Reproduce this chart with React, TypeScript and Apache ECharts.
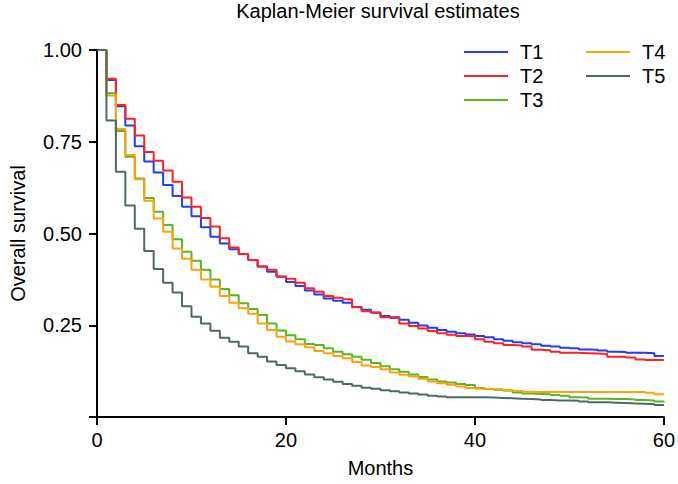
import React, { useEffect, useRef } from "react";
import * as echarts from "echarts";

const FONT = "'Liberation Sans', Arial, sans-serif";

const months = [
  0, 1, 2, 3, 4, 5, 6, 7, 8, 9, 10, 11, 12, 13, 14, 15, 16, 17, 18, 19, 20,
  21, 22, 23, 24, 25, 26, 27, 28, 29, 30, 31, 32, 33, 34, 35, 36, 37, 38, 39, 40,
  41, 42, 43, 44, 45, 46, 47, 48, 49, 50, 51, 52, 53, 54, 55, 56, 57, 58, 59, 60,
];

const seriesNames = ["T1", "T2", "T3", "T4", "T5"];
const seriesColors = ["#1f3cff", "#ff2020", "#5bb524", "#ffa20a", "#4f6868"];

const t1 = [
  1.0, 0.918, 0.847, 0.794, 0.738, 0.696, 0.666, 0.632, 0.602, 0.573, 0.547,
  0.517, 0.491, 0.473, 0.457, 0.444, 0.428, 0.41, 0.396, 0.382, 0.368,
  0.357, 0.345, 0.334, 0.323, 0.317, 0.311, 0.3, 0.292, 0.285, 0.275,
  0.272, 0.265, 0.257, 0.249, 0.243, 0.237, 0.232, 0.228, 0.225, 0.221,
  0.217, 0.212, 0.208, 0.204, 0.201, 0.198, 0.194, 0.192, 0.189, 0.187,
  0.184, 0.183, 0.181, 0.178, 0.177, 0.175, 0.175, 0.174, 0.166, 0.166,
];

const t2 = [
  1.0, 0.922, 0.85, 0.813, 0.767, 0.722, 0.698, 0.672, 0.641, 0.598, 0.573,
  0.542, 0.519, 0.487, 0.462, 0.444, 0.428, 0.41, 0.401, 0.383, 0.377,
  0.366, 0.351, 0.341, 0.33, 0.325, 0.321, 0.299, 0.288, 0.284, 0.272,
  0.27, 0.255, 0.248, 0.241, 0.234, 0.228, 0.224, 0.221, 0.22, 0.212,
  0.205, 0.201, 0.196, 0.195, 0.192, 0.183, 0.182, 0.178, 0.175, 0.175,
  0.174, 0.173, 0.172, 0.164, 0.164, 0.162, 0.157, 0.155, 0.155, 0.155,
];

const t3 = [
  1.0, 0.882, 0.779, 0.709, 0.65, 0.597, 0.559, 0.523, 0.484, 0.45, 0.426,
  0.401, 0.375, 0.349, 0.332, 0.31, 0.294, 0.278, 0.255, 0.236, 0.223,
  0.212, 0.199, 0.196, 0.187, 0.178, 0.171, 0.164, 0.156, 0.147, 0.138,
  0.13, 0.123, 0.116, 0.109, 0.102, 0.097, 0.094, 0.09, 0.087, 0.079,
  0.076, 0.074, 0.072, 0.067, 0.064, 0.063, 0.062, 0.06, 0.058, 0.054,
  0.053, 0.05, 0.05, 0.049, 0.049, 0.048, 0.046, 0.045, 0.042, 0.04,
];

const t4 = [
  1.0, 0.876, 0.785, 0.714, 0.648, 0.589, 0.541, 0.505, 0.459, 0.431, 0.401,
  0.375, 0.355, 0.33, 0.311, 0.296, 0.281, 0.255, 0.237, 0.219, 0.206,
  0.198, 0.19, 0.18, 0.174, 0.166, 0.16, 0.15, 0.14, 0.136, 0.13,
  0.121, 0.115, 0.111, 0.104, 0.097, 0.092, 0.088, 0.083, 0.079, 0.077,
  0.076, 0.075, 0.073, 0.071, 0.069, 0.068, 0.068, 0.068, 0.068, 0.068,
  0.068, 0.068, 0.068, 0.068, 0.068, 0.068, 0.068, 0.066, 0.062, 0.062,
];

const t5 = [
  1.0, 0.808, 0.668, 0.576, 0.513, 0.452, 0.403, 0.366, 0.339, 0.302, 0.273,
  0.255, 0.235, 0.216, 0.205, 0.192, 0.174, 0.164, 0.151, 0.142, 0.133,
  0.125, 0.116, 0.108, 0.102, 0.096, 0.09, 0.085, 0.08, 0.077, 0.073,
  0.07, 0.067, 0.064, 0.061, 0.058, 0.056, 0.054, 0.054, 0.054, 0.054,
  0.053, 0.052, 0.051, 0.05, 0.049, 0.048, 0.046, 0.045, 0.045, 0.044,
  0.042, 0.04, 0.04, 0.039, 0.038, 0.037, 0.036, 0.035, 0.033, 0.033,
];

const seriesValues = [t1, t2, t3, t4, t5];

const xTicks = [0, 20, 40, 60];
const yTicks = [0, 0.25, 0.5, 0.75, 1.0];

export default function App() {
  const ref = useRef<HTMLDivElement>(null);

  useEffect(() => {
    if (!ref.current) return;
    const chart = echarts.init(ref.current, null, { renderer: "svg" });
    const textBase = { fontFamily: FONT, color: "#000", fontSize: 20 };
    const legendCommon = {
      orient: "vertical",
      top: 42,
      padding: 0,
      itemWidth: 44,
      itemHeight: 2,
      itemGap: 4,
      icon: "rect",
      textStyle: { ...textBase, lineHeight: 20, padding: [0, 0, 0, 7] },
    };
    chart.setOption({
      animation: false,
      title: {
        text: "Kaplan-Meier survival estimates",
        left: 378,
        textAlign: "center",
        top: 1,
        padding: 0,
        textStyle: { ...textBase, fontWeight: "normal" },
      },
      legend: [
        { ...legendCommon, left: 464, data: seriesNames.slice(0, 3) },
        { ...legendCommon, left: 586, data: seriesNames.slice(3) },
      ],
      grid: { left: 91, right: 12, top: 50, bottom: 67 },
      xAxis: {
        type: "value",
        min: xTicks[0],
        max: xTicks[xTicks.length - 1],
        interval: xTicks[1] - xTicks[0],
        name: "Months",
        nameLocation: "middle",
        nameGap: 41,
        nameTextStyle: textBase,
        axisLine: { show: true, lineStyle: { color: "#000", width: 2 } },
        axisTick: { show: true, length: 8, lineStyle: { color: "#000", width: 2 } },
        axisLabel: { ...textBase, margin: 13 },
        splitLine: { show: false },
      },
      yAxis: {
        type: "value",
        min: yTicks[0],
        max: yTicks[yTicks.length - 1],
        interval: yTicks[1] - yTicks[0],
        name: "Overall survival",
        nameLocation: "middle",
        nameGap: 69,
        nameRotate: 90,
        nameTextStyle: textBase,
        axisLine: { show: true, lineStyle: { color: "#000", width: 2 } },
        axisTick: { show: true, length: 8, lineStyle: { color: "#000", width: 2 } },
        axisLabel: {
          ...textBase,
          margin: 15,
          formatter: (v: number) => (v === 0 ? "" : v.toFixed(2)),
        },
        splitLine: { show: false },
      },
      series: seriesNames.map((name, i) => ({
        name,
        type: "line",
        step: "end",
        symbol: "none",
        data: months.map((m, j) => [m, seriesValues[i][j]]),
        lineStyle: { color: seriesColors[i], width: 2 },
        itemStyle: { color: seriesColors[i] },
      })),
    });
    return () => chart.dispose();
  }, []);

  return (
    <div
      ref={ref}
      style={{ position: "absolute", left: 0, top: 0, width: 678, height: 484, background: "#fff" }}
    />
  );
}
